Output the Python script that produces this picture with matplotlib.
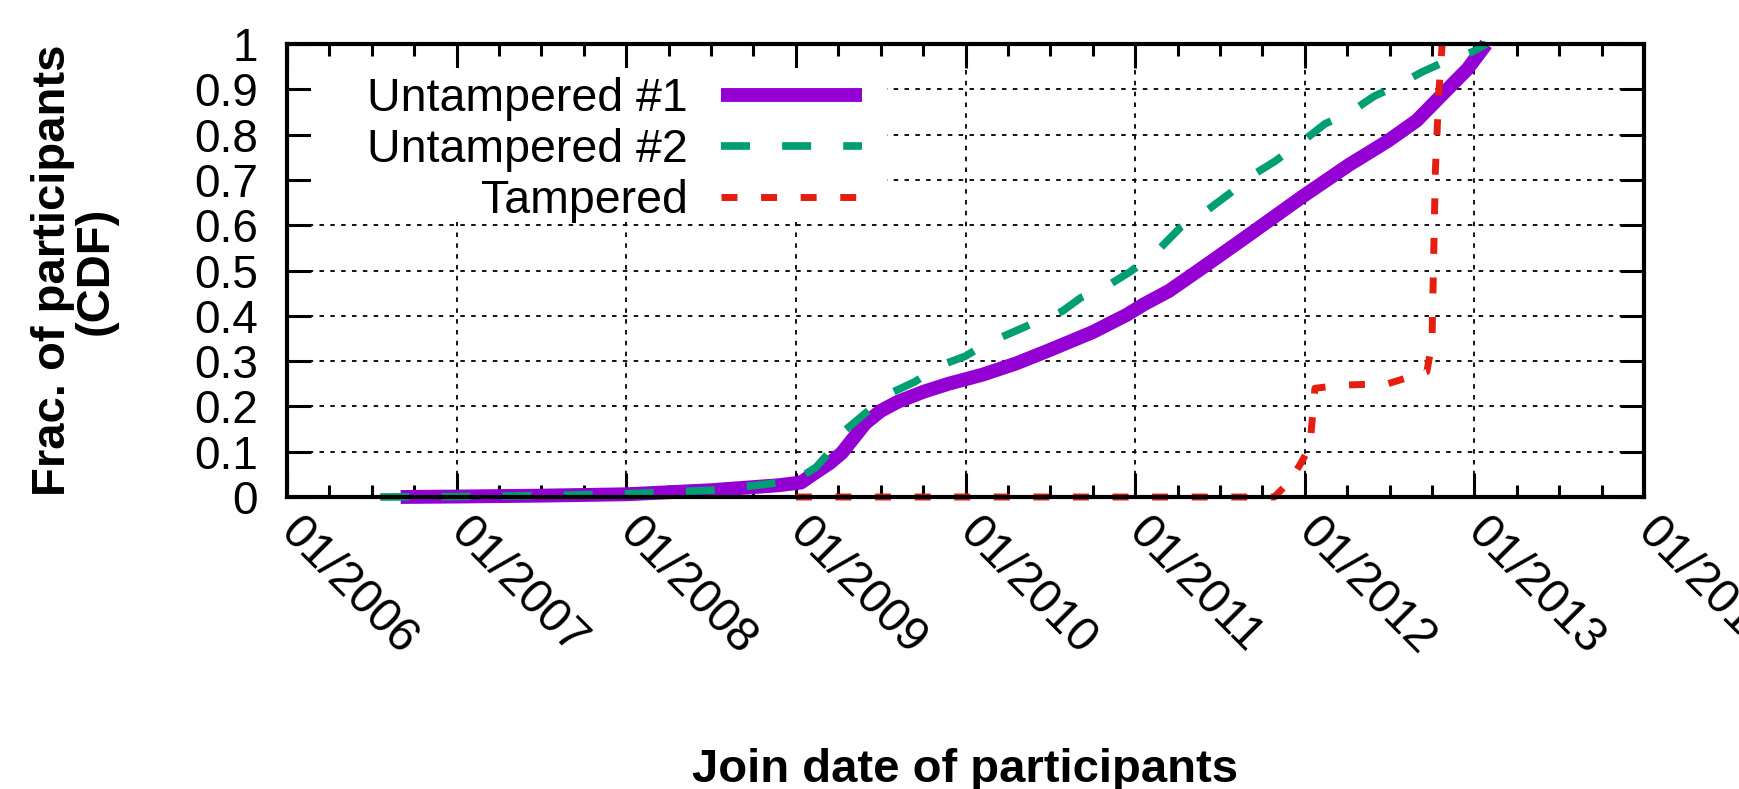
import matplotlib
matplotlib.use("Agg")
import matplotlib.pyplot as plt
from matplotlib.patches import Rectangle
from matplotlib.ticker import MultipleLocator, FixedLocator, FixedFormatter

# ---- data (decimal years, CDF fraction) ----
untampered1_x = [2006.67, 2007.0, 2007.5, 2008.0, 2008.5, 2008.9, 2009.03, 2009.1, 2009.2,
                 2009.27, 2009.34, 2009.41, 2009.5, 2009.6, 2009.75, 2009.9, 2010.1,
                 2010.3, 2010.5, 2010.75, 2010.95, 2011.05, 2011.2, 2011.4, 2011.65,
                 2011.99, 2012.26, 2012.49, 2012.66, 2012.82, 2012.96, 2013.07]
untampered1_y = [0.0, 0.001, 0.003, 0.006, 0.015, 0.026, 0.032, 0.05, 0.075,
                 0.097, 0.13, 0.163, 0.19, 0.21, 0.232, 0.25, 0.27,
                 0.295, 0.325, 0.364, 0.402, 0.425, 0.455, 0.507, 0.573,
                 0.664, 0.733, 0.786, 0.831, 0.892, 0.945, 1.0]

untampered2_x = [2006.55, 2007.0, 2007.5, 2008.0, 2008.5, 2008.8, 2009.0, 2009.12, 2009.2,
                 2009.27, 2009.41, 2009.55, 2009.7, 2009.85, 2010.0, 2010.12, 2010.28,
                 2010.42, 2010.57, 2010.68, 2010.84, 2010.97, 2011.12, 2011.27, 2011.4,
                 2011.55, 2011.69, 2011.82, 2011.99, 2012.12, 2012.26, 2012.41, 2012.54,
                 2012.69, 2012.82, 2012.99, 2013.07]
untampered2_y = [0.0, 0.001, 0.003, 0.007, 0.015, 0.027, 0.037, 0.066, 0.10,
                 0.141, 0.185, 0.228, 0.254, 0.29, 0.311, 0.338, 0.364,
                 0.387, 0.41, 0.44, 0.467, 0.497, 0.539, 0.596, 0.626,
                 0.668, 0.71, 0.74, 0.786, 0.824, 0.847, 0.885, 0.907,
                 0.938, 0.96, 0.983, 1.0]

tampered_x = [2009.0, 2011.82, 2011.9, 2011.97, 2012.03, 2012.06, 2012.22, 2012.49,
              2012.72, 2012.75, 2012.77, 2012.79, 2012.81]
tampered_y = [0.0, 0.0, 0.03, 0.07, 0.11, 0.24, 0.247, 0.25,
              0.277, 0.34, 0.72, 0.89, 1.0]

series_labels = ["Untampered #1", "Untampered #2", "Tampered"]
year_ticks = [2006, 2007, 2008, 2009, 2010, 2011, 2012, 2013, 2014]
year_tick_labels = ["01/2006", "01/2007", "01/2008", "01/2009", "01/2010",
                    "01/2011", "01/2012", "01/2013", "01/2014"]
y_ticks = [0, 0.1, 0.2, 0.3, 0.4, 0.5, 0.6, 0.7, 0.8, 0.9, 1.0]
y_tick_labels = ["0", "0.1", "0.2", "0.3", "0.4", "0.5", "0.6", "0.7", "0.8", "0.9", "1"]

# ---- style ----
plt.rcParams['font.family'] = ['Liberation Sans', 'DejaVu Sans']
W, H, DPI = 1739, 789, 100
fig = plt.figure(figsize=(W / DPI, H / DPI), dpi=DPI)
L, R, T, B = 287, 1644, 44, 497
ax = fig.add_axes([L / W, 1 - B / H, (R - L) / W, (B - T) / H])

PURPLE = '#9400D3'
GREEN = '#009E73'
RED = '#E51E10'

ax.plot(untampered1_x, untampered1_y, color=PURPLE, lw=10, solid_capstyle='butt',
        solid_joinstyle='round', label=series_labels[0], clip_on=False, zorder=2)
ax.plot(untampered2_x, untampered2_y, color=GREEN, lw=5.5, linestyle=(0, (3.8, 4.2)),
        dash_capstyle='butt', label=series_labels[1], clip_on=False, zorder=2.1)
ax.plot(tampered_x, tampered_y, color=RED, lw=5, linestyle=(0, (2.3, 3.4)),
        dash_capstyle='butt', label=series_labels[2], clip_on=False, zorder=2.2)

ax.set_xlim(2006, 2014)
ax.set_ylim(0, 1)

ax.xaxis.set_major_locator(FixedLocator(year_ticks))
ax.xaxis.set_major_formatter(FixedFormatter(year_tick_labels))
ax.xaxis.set_minor_locator(MultipleLocator(0.25))
ax.yaxis.set_major_locator(FixedLocator(y_ticks))
ax.yaxis.set_major_formatter(FixedFormatter(y_tick_labels))

ax.tick_params(axis='both', which='both', direction='in', top=True, right=True,
               color='black', width=2.2)
ax.tick_params(axis='both', which='major', length=17)
ax.tick_params(axis='x', which='minor', length=8.5)
ax.tick_params(axis='y', which='major', labelsize=33, pad=21)
ax.tick_params(axis='x', which='major', labelsize=34.5, pad=20)
for lab in ax.get_xticklabels():
    lab.set_rotation(-45)
    lab.set_ha('left')
    lab.set_va('center')
    lab.set_rotation_mode('anchor')

for sp in ax.spines.values():
    sp.set_linewidth(3)
    sp.set_color('black')

ax.grid(True, which='major', color='black', linestyle=(0, (2.5, 3.5)), linewidth=1.3)

# opaque key area (hides grid behind the key, leaves ticks visible)
ax.add_patch(Rectangle((0.018, 0.607), 0.424, 0.34, transform=ax.transAxes,
                       facecolor='white', edgecolor='none', zorder=1.8))

leg = ax.legend(loc='upper right', bbox_to_anchor=(0.4237, 0.927), fontsize=33.5,
                markerfirst=False, frameon=False, handlelength=3.03,
                handletextpad=0.71, labelspacing=0.155, borderpad=0.0,
                borderaxespad=0)
leg.set_zorder(5)

ax.set_xlabel("Join date of participants", fontsize=34, fontweight='bold')
ax.xaxis.set_label_coords(0.5, -0.555)
ax.set_ylabel("Frac. of participants\n(CDF)", fontsize=34, fontweight='bold',
              linespacing=0.95)
ax.yaxis.set_label_coords(-0.125, 0.5)

fig.savefig("out.png", dpi=DPI)
